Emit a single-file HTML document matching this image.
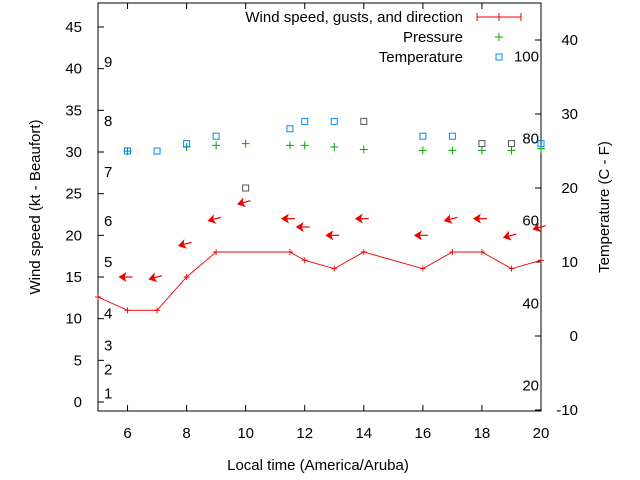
<!DOCTYPE html>
<html><head><meta charset="utf-8"><style>
body{margin:0;background:#fff}
svg{display:block;font-family:"Liberation Sans",sans-serif}
</style></head><body>
<svg id="c" width="640" height="480">
<g id="axes"></g><g id="marks"></g>
</svg>
<script>
const hours=[5,6,7,8,9,11.5,12,13,14,16,17,18,19,20];
const windSpeed=[12.6,11,11,15,18,18,17,16,18,16,18,18,16,17];
const arrowHours=[6,7,8,9,10,11.5,12,13,14,16,17,18,19,20];
const gusts=[15,15,19,22,24,22,21,20,22,20,22,22,20,21];
const arrowDir=[90,75,75,75,75,90,90,90,90,90,75,90,75,75];
const pressHours=[6,8,9,10,11.5,12,13,14,16,17,18,19,20];
const pressure=[30.1,30.6,30.8,31,30.8,30.8,30.6,30.3,30.2,30.2,30.2,30.2,30.4];
const tempHours=[6,7,8,9,10,11.5,12,13,14,16,17,18,19,20];
const temps=[25,25,26,27,20,28,29,29,29,27,27,26,26,26];
const tempObs=[1,1,1,1,0,1,1,1,0,1,1,0,0,1];
const xTicks=[6,8,10,12,14,16,18,20];
const yTicks=[0,5,10,15,20,25,30,35,40,45];
const y2Ticks=[-10,0,10,20,30,40];
const beaufort=["1","2","3","4","5","6","7","8","9"];
const beaufortKt=[1,3.9,6.8,10.6,16.8,21.7,27.6,33.7,40.8];
const fLabels=["20","40","60","80","100"];
const fC=[-6.7,4.4,15.6,26.7,37.8];
const L=98,R=541,T=3,B=411;
const X=h=>L+(h-5)*(R-L)/15;
const Y=v=>402-v*375/45;
const Y2=t=>336-t*7.4;
const NS="http://www.w3.org/2000/svg";
const ax=document.getElementById('axes'),mk=document.getElementById('marks');
function el(p,tag,a,txt){const e=document.createElementNS(NS,tag);for(const k in a)e.setAttribute(k,a[k]);if(txt!==undefined)e.textContent=txt;p.appendChild(e);return e;}
let f=el(ax,'rect',{x:L,y:T,width:R-L,height:B-T,fill:'none',stroke:'#000'});


xTicks.forEach(h=>{const x=X(h);
el(ax,'line',{x1:x,x2:x,y1:B,y2:B-6,stroke:'#000'});el(ax,'line',{x1:x,x2:x,y1:T,y2:T+6,stroke:'#000'});
const t=el(ax,'text',{x:x,y:438,'text-anchor':'middle','font-size':15},h);

});
yTicks.forEach(v=>{const y=Y(v);el(ax,'line',{x1:L,x2:L+6,y1:y,y2:y,stroke:'#000'});
const t=el(ax,'text',{x:82,y:y+5,'text-anchor':'end','font-size':15},v);

});
y2Ticks.forEach(v=>{const y=Y2(v);el(ax,'line',{x1:R,x2:R-6,y1:y,y2:y,stroke:'#000'});
const t=el(ax,'text',{x:578,y:y+5,'text-anchor':'end','font-size':15},v);

});
beaufort.forEach((b,i)=>{const t=el(ax,'text',{x:104,y:Y(beaufortKt[i])+5,'font-size':15},b);

});
fLabels.forEach((b,i)=>{const t=el(ax,'text',{x:539,y:Y2(fC[i])+5,'text-anchor':'end','font-size':15},b);

});
let t=el(ax,'text',{x:318,y:470,'text-anchor':'middle','font-size':15},'Local time (America/Aruba)');

t=el(ax,'text',{x:40,y:207,'text-anchor':'middle','font-size':15,transform:'rotate(-90 40 207)'},'Wind speed (kt - Beaufort)');

t=el(ax,'text',{x:609,y:207,'text-anchor':'middle','font-size':15,transform:'rotate(-90 609 207)'},'Temperature (C - F)');

// legend
[['Wind speed, gusts, and direction',17],['Pressure',37],['Temperature',57]].forEach(([s,y])=>{const e=el(ax,'text',{x:463,y:y+5,'text-anchor':'end','font-size':15},s);
});
el(ax,'line',{x1:477,x2:521,y1:17,y2:17,stroke:'#e00'});
[477,499,521].forEach(x=>el(ax,'line',{x1:x,x2:x,y1:13,y2:21,stroke:'#e00'}));
el(ax,'path',{d:'M495 37h8M499 33v8',stroke:'#0a0'});
el(ax,'rect',{x:496,y:54,width:6,height:6,fill:'none',stroke:'#08f'});
// wind line
const pts=hours.map((h,i)=>X(h)+','+Y(windSpeed[i])).join(' ');
let pl=el(mk,'polyline',{points:pts,fill:'none',stroke:'#e00','stroke-width':0.9});

hours.forEach((h,i)=>{const x=X(h),y=Y(windSpeed[i]);el(mk,'path',{d:`M${x-3} ${y}h6M${x} ${y-3}v6`,stroke:'#e00','stroke-width':0.9});});
// arrows
arrowHours.forEach((h,i)=>{const x=X(h),y=Y(gusts[i]);
const g=el(mk,'g',{transform:`translate(${x},${y}) rotate(${arrowDir[i]-90})`});

el(g,'line',{x1:-6,y1:0,x2:5,y2:0,stroke:'#e00','stroke-width':1.2});
el(g,'path',{d:'M-9 0L-1 -5L-3 0L-1 5Z',fill:'#e00'});});
// pressure
pressHours.forEach((h,i)=>{const x=X(h),y=Y(pressure[i]);const p=el(mk,'path',{d:`M${x-4} ${y}h8M${x} ${y-4}v8`,stroke:'#0a0'});
});
// temps
tempHours.forEach((h,i)=>{const x=X(h),y=Y2(temps[i]);const r=el(mk,'rect',{x:x-3,y:y-3,width:6,height:6,fill:'none',stroke:tempObs[i]?'#08f':'#555'});
});
</script>
</body></html>
